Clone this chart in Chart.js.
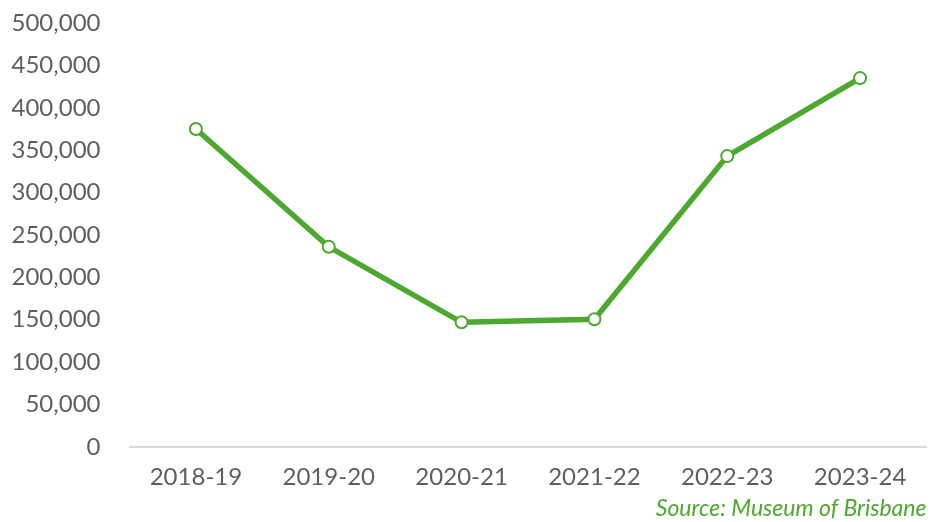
<!DOCTYPE html>
<html lang="en">
<head>
  <meta charset="UTF-8">
  <title>Museum of Brisbane visitors</title>
  <script src="https://cdn.jsdelivr.net/npm/chart.js"></script>
  <style>
    html, body { margin: 0; padding: 0; background: #fff; }
    #box { width: 939px; height: 522px; }
  </style>
</head>
<body>
  <div id="box"><canvas id="grafico"></canvas></div>
  <script>
    const anos = ['2018-19', '2019-20', '2020-21', '2021-22', '2022-23', '2023-24'];
    const visitantes = [375000, 236000, 147000, 150500, 343000, 435000];
    const fonte = 'Source: Museum of Brisbane';

    const verde = '#4ea72e';
    const cinza = '#5e5e5e';

    new Chart(document.getElementById('grafico'), {
      type: 'line',
      data: {
        labels: anos,
        datasets: [{
          data: visitantes,
          borderColor: verde,
          borderWidth: 5.5,
          tension: 0,
          pointRadius: 6,
          pointBorderWidth: 2,
          pointBackgroundColor: '#fff',
          pointBorderColor: verde
        }]
      },
      options: {
        responsive: true,
        maintainAspectRatio: false,
        animation: false,
        layout: { padding: { left: 0, right: 12.5, top: 0, bottom: 0 } },
        plugins: {
          legend: { display: false },
          tooltip: { enabled: false },
          title: {
            display: true,
            text: fonte,
            position: 'bottom',
            align: 'end',
            color: verde,
            padding: { top: 3, bottom: 0 },
            font: { family: 'Lato', size: 23, style: 'italic', weight: 'normal' }
          }
        },
        scales: {
          x: {
            offset: true,
            grid: { display: false, drawTicks: false },
            border: { display: true, color: '#d9d9d9', width: 2 },
            ticks: { color: cinza, padding: 16, font: { family: 'Lato', size: 24 } },
            afterFit: s => { s.height = 44.5; }
          },
          y: {
            min: 0,
            max: 500000,
            grid: { display: false, drawTicks: false },
            border: { display: false },
            ticks: {
              stepSize: 50000,
              color: cinza,
              padding: 29,
              font: { family: 'Lato', size: 24 },
              callback: v => v.toLocaleString('en-US')
            },
            // o padding dos ticks tambem empurra o topo, entao corrijo aqui
            afterFit: s => { s.width = 129.5; s.paddingTop = 23; }
          }
        }
      }
    });
  </script>
</body>
</html>
